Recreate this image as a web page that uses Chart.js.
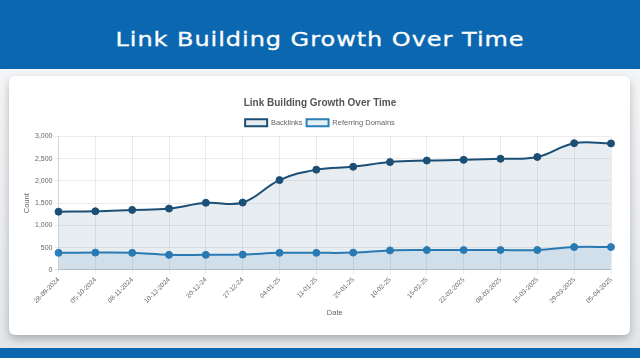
<!DOCTYPE html>
<html>
<head>
<meta charset="utf-8">
<script src="https://cdn.jsdelivr.net/npm/chart.js@4.4.1/dist/chart.umd.min.js"></script>
<style>
  html, body { margin: 0; padding: 0; width: 640px; height: 358px; overflow: hidden; background: #eef0f2; font-family: "Liberation Sans", Arial, sans-serif; }
  #banner { position: absolute; left: 0; top: 0; width: 640px; height: 69px; background: #0b68b0; }
  #bt { position: absolute; left: 0; top: 27px; width: 640px; text-align: center; color: #fff; font-family: "DejaVu Sans", sans-serif; font-size: 20px; line-height: 24px; letter-spacing: 0.8px; transform: scaleX(1.2); transform-origin: 320px 0; -webkit-text-stroke: 0.3px #fff; }
  #bg { position: absolute; left: 0; top: 69px; width: 640px; height: 279px; background: linear-gradient(#f3f5f7, #e4e7ea); }
  #bottom { position: absolute; left: 0; top: 348px; width: 640px; height: 10px; background: #0b68b0; }
  #card { position: absolute; left: 9px; top: 76px; width: 621px; height: 259px; background: #fff; border-radius: 6px; box-shadow: 0 4px 8px rgba(0,0,0,0.25); }
  #wrap { position: absolute; left: 10px; top: 10px; width: 603px; height: 235px; }
</style>
</head>
<body>
<div id="banner"><div id="bt">Link Building Growth Over Time</div></div>
<div id="bg"></div>
<div id="bottom"></div>
<div id="card"><div id="wrap"><canvas id="c" width="603" height="235"></canvas></div></div>
<script>
const dates = ["28-09-2024","05-10-2024","08-11-2024","10-12-2024","20-12-24","27-12-24","04-01-25","11-01-25","25-01-25","10-02-25","15-02-25","22-02-2025","08-03-2025","15-03-2025","29-03-2025","05-04-2025"];
const backlinks = [1310,1320,1350,1380,1510,1515,2020,2255,2320,2425,2460,2475,2500,2540,2850,2845];
const referringDomains = [385,390,385,340,340,345,385,385,390,440,448,448,448,448,515,515];
const yTicksMax = 3000;

new Chart(document.getElementById('c'), {
  type: 'line',
  data: {
    labels: dates,
    datasets: [
      { label: 'Backlinks', data: backlinks, borderColor: '#1b4f76', backgroundColor: 'rgba(27,79,118,0.1)', fill: 'origin', tension: 0.4, borderWidth: 2, pointRadius: 3.5, pointBorderWidth: 1, pointBackgroundColor: '#1b4f76', pointBorderColor: '#1b4f76' },
      { label: 'Referring Domains', data: referringDomains, borderColor: '#2b7fba', backgroundColor: 'rgba(43,127,186,0.12)', fill: 'origin', tension: 0.4, borderWidth: 2, pointRadius: 3.5, pointBorderWidth: 1, pointBackgroundColor: '#2b7fba', pointBorderColor: '#2b7fba' }
    ]
  },
  options: {
    responsive: false,
    animation: false,
    layout: { padding: { left: 1, right: 2, top: 5, bottom: 0 } },
    plugins: {
      title: { display: true, text: 'Link Building Growth Over Time', color: '#555', font: { size: 10, weight: 'bold', family: 'Liberation Sans' }, padding: { top: 6, bottom: 6 } },
      legend: { labels: { boxWidth: 22, boxHeight: 7, color: '#666', font: { size: 7.5, family: 'Liberation Sans' }, padding: 4 } },
      tooltip: { enabled: false }
    },
    scales: {
      x: {
        afterFit: (s) => { s.paddingRight = 11; },
        title: { display: true, text: 'Date', color: '#666', font: { size: 7.5, family: 'Liberation Sans' }, padding: { top: 1, bottom: 4 } },
        ticks: { minRotation: 45, maxRotation: 45, color: '#666', padding: 2, font: { size: 6.5, family: 'Liberation Sans' } },
        grid: { color: 'rgba(0,0,0,0.08)', tickLength: 4 }
      },
      y: {
        min: 0, max: yTicksMax,
        title: { display: true, text: 'Count', color: '#666', font: { size: 7.5, family: 'Liberation Sans' }, padding: { top: 2, bottom: 2 } },
        ticks: { stepSize: 500, color: '#666', padding: 2, font: { size: 7, family: 'Liberation Sans' } },
        grid: { color: 'rgba(0,0,0,0.08)', tickLength: 4 }
      }
    }
  }
});
</script>
</body>
</html>
